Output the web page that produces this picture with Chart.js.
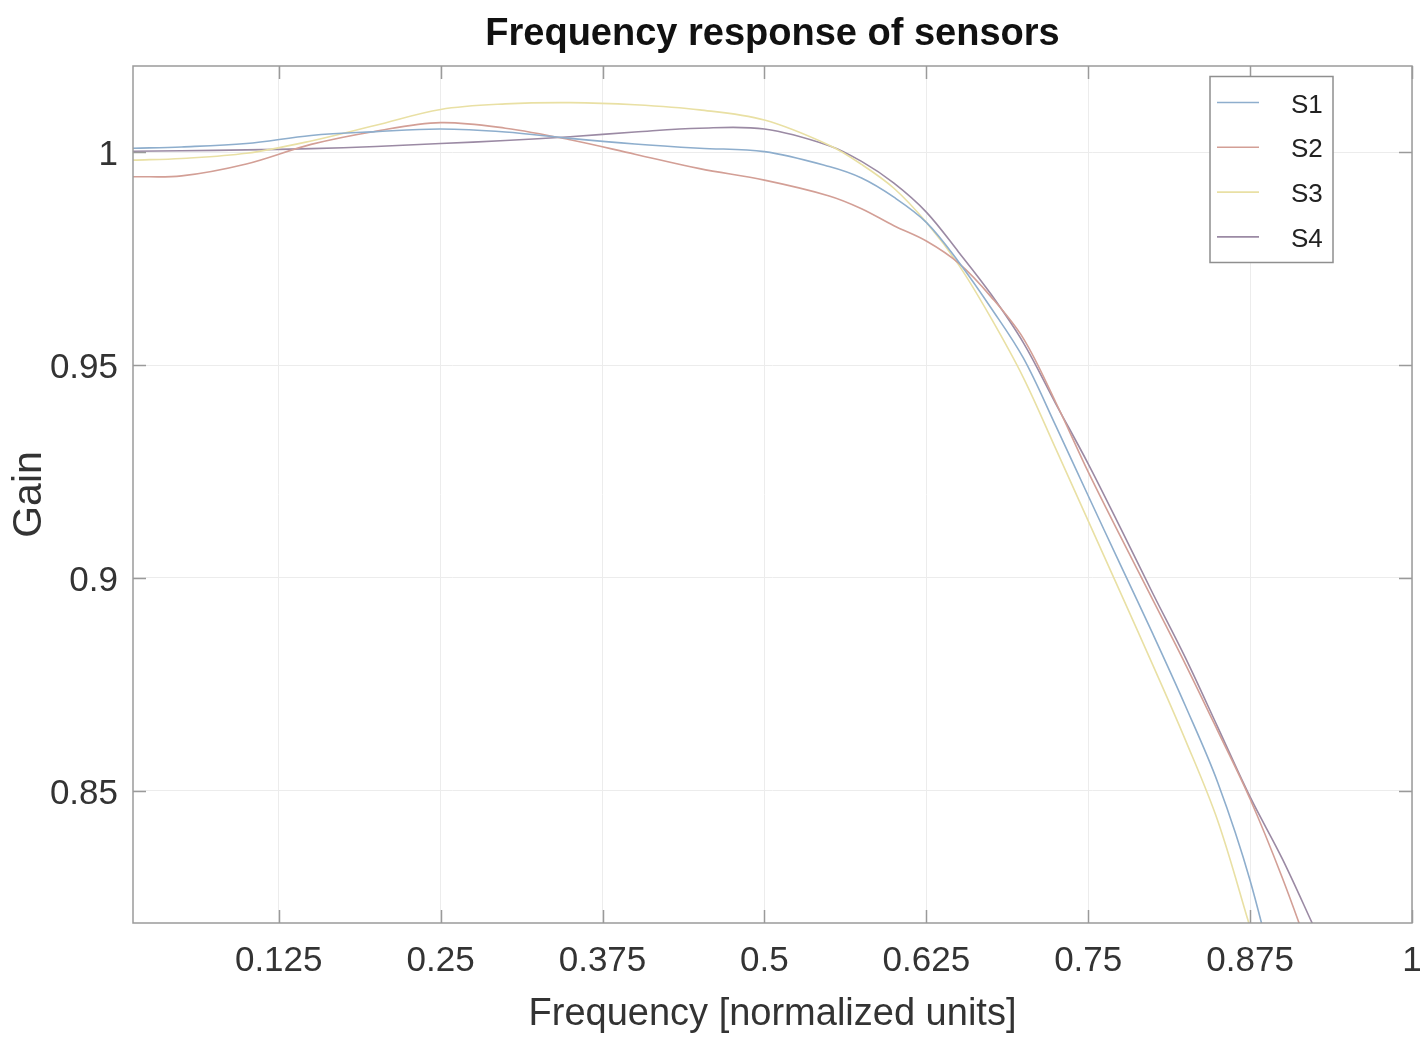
<!DOCTYPE html>
<html>
<head>
<meta charset="utf-8">
<title>Frequency response of sensors</title>
<script src="https://cdn.jsdelivr.net/npm/chart.js@4.4.1/dist/chart.umd.min.js"></script>
<style>
  html, body { margin: 0; padding: 0; background: #fff; }
  #wrap { width: 1422px; height: 1041px; }
</style>
</head>
<body>
<div id="wrap"><canvas id="response" width="1422" height="1041"></canvas></div>
<script>
// normalized frequency grid shared by all sensors
const freq = [0.0125, 0.05, 0.1, 0.15, 0.2, 0.25, 0.3, 0.35, 0.4, 0.45, 0.5, 0.55, 0.575,
              0.6, 0.625, 0.65, 0.675, 0.7, 0.725, 0.75, 0.775, 0.8, 0.825, 0.85, 0.875, 0.9, 0.925];

const s1 = [1.0009, 1.0012, 1.0020, 1.0039, 1.0048, 1.0054, 1.0047, 1.0032, 1.0019, 1.0009, 1.0001, 0.9966, 0.9939,
            0.9894, 0.9835, 0.9742, 0.9634, 0.9516, 0.9357, 0.9193, 0.9030, 0.8868, 0.8700, 0.8520, 0.8290, 0.7990, null];
const s2 = [0.9942, 0.9944, 0.9972, 1.0018, 1.0049, 1.0069, 1.0056, 1.0029, 0.9995, 0.9961, 0.9934, 0.9897, 0.9867,
            0.9827, 0.9791, 0.9739, 0.9660, 0.9562, 0.9412, 0.9249, 0.9097, 0.8948, 0.8798, 0.8641, 0.8481, 0.8295, 0.8087];
const s3 = [0.9981, 0.9985, 0.9997, 1.0026, 1.0063, 1.0100, 1.0113, 1.0116, 1.0111, 1.0099, 1.0075, 1.0016, 0.9971,
            0.9915, 0.9835, 0.9735, 0.9610, 0.9470, 0.9303, 0.9134, 0.8965, 0.8795, 0.8620, 0.8430, 0.8180, null, null];
const s4 = [1.0002, 1.0003, 1.0005, 1.0008, 1.0013, 1.0020, 1.0027, 1.0036, 1.0047, 1.0056, 1.0054, 1.0015, 0.9978,
            0.9927, 0.9859, 0.9765, 0.9666, 0.9552, 0.9409, 0.9268, 0.9117, 0.8963, 0.8813, 0.8650, 0.8486, 0.8340, 0.8176];

const seriesNames = ['S1', 'S2', 'S3', 'S4'];
const seriesColors = ['#8eaecd', '#d39f96', '#e9e0a4', '#9b8aa4'];

const xTicks = [0.125, 0.25, 0.375, 0.5, 0.625, 0.75, 0.875, 1];
const yTicks = [0.85, 0.9, 0.95, 1];

const titleText = 'Frequency response of sensors';
const xTitle = 'Frequency [normalized units]';
const yTitle = 'Gain';

const fontFamily = '"Liberation Sans", Arial, sans-serif';

function toPoints(values) {
    return freq.map((f, i) => ({ x: f, y: values[i] }));
}

// title centred over the plot box, not the whole canvas
const plotTitle = {
    id: 'plotTitle',
    afterDraw(chart) {
        const { ctx, chartArea } = chart;
        ctx.save();
        ctx.font = 'bold 38px ' + fontFamily;
        ctx.fillStyle = '#111';
        ctx.textAlign = 'center';
        ctx.textBaseline = 'middle';
        ctx.fillText(titleText, (chartArea.left + chartArea.right) / 2, 35);
        ctx.restore();
    }
};

// closed axes box with inward tick marks on all four sides
const axesBox = {
    id: 'axesBox',
    afterDatasetsDraw(chart) {
        const { ctx, chartArea: { left, right, top, bottom }, scales: { x, y } } = chart;
        const len = 13;
        ctx.save();
        ctx.strokeStyle = '#9a9a9a';
        ctx.lineWidth = 1.5;
        ctx.beginPath();
        x.ticks.forEach(t => {
            const px = Math.round(x.getPixelForValue(t.value)) + 0.5;
            ctx.moveTo(px, bottom); ctx.lineTo(px, bottom - len);
            ctx.moveTo(px, top); ctx.lineTo(px, top + len);
        });
        y.ticks.forEach(t => {
            const py = Math.round(y.getPixelForValue(t.value)) + 0.5;
            ctx.moveTo(left, py); ctx.lineTo(left + len, py);
            ctx.moveTo(right, py); ctx.lineTo(right - len, py);
        });
        ctx.stroke();
        ctx.strokeRect(left, top, right - left, bottom - top);
        ctx.restore();
    }
};

// boxed legend in the upper right corner of the plot
const boxLegend = {
    id: 'boxLegend',
    afterDraw(chart) {
        const { ctx, chartArea } = chart;
        const w = 123, h = 186;
        const bx = chartArea.right - 79 - w;
        const by = chartArea.top + 10.5;
        ctx.save();
        ctx.fillStyle = '#fff';
        ctx.fillRect(bx, by, w, h);
        ctx.strokeStyle = '#8f8f8f';
        ctx.lineWidth = 1.5;
        ctx.strokeRect(bx, by, w, h);
        ctx.font = '26px ' + fontFamily;
        ctx.textBaseline = 'middle';
        ctx.textAlign = 'left';
        chart.data.datasets.forEach((ds, i) => {
            const rowY = by + 26 + i * 44.8;
            ctx.strokeStyle = ds.borderColor;
            ctx.lineWidth = 1.6;
            ctx.beginPath();
            ctx.moveTo(bx + 7, rowY);
            ctx.lineTo(bx + 49, rowY);
            ctx.stroke();
            ctx.fillStyle = '#222';
            ctx.fillText(ds.label, bx + 81, rowY + 3);
        });
        ctx.restore();
    }
};

const datasets = [s1, s2, s3, s4].map((vals, i) => ({
    label: seriesNames[i],
    data: toPoints(vals),
    borderColor: seriesColors[i],
    backgroundColor: seriesColors[i],
    borderWidth: 1.6,
    pointRadius: 0,
    tension: 0.35,
    fill: false
}));

new Chart(document.getElementById('response'), {
    type: 'line',
    data: { datasets },
    options: {
        responsive: false,
        animation: false,
        devicePixelRatio: 1,
        layout: { padding: { top: 66, right: 10, bottom: 0, left: 0 } },
        plugins: {
            legend: { display: false },
            title: { display: false },
            tooltip: { enabled: false }
        },
        scales: {
            x: {
                type: 'linear',
                min: 0.0125,
                max: 1,
                afterBuildTicks: s => { s.ticks = xTicks.map(v => ({ value: v })); },
                afterFit: s => {
                    s.height = 118;
                    s.paddingLeft = 0;
                    s.paddingRight = 0;
                },
                grid: { color: '#ececec', lineWidth: 1, drawTicks: false },
                border: { display: false },
                ticks: {
                    autoSkip: false,
                    maxRotation: 0,
                    padding: 17,
                    color: '#333',
                    font: { family: fontFamily, size: 35 },
                    callback: v => String(v)
                },
                title: {
                    display: true,
                    text: xTitle,
                    color: '#333',
                    font: { family: fontFamily, size: 38 },
                    padding: { top: 0, bottom: 4 }
                }
            },
            y: {
                min: 0.819,
                max: 1.0202,
                afterBuildTicks: s => { s.ticks = yTicks.map(v => ({ value: v })); },
                afterFit: s => { s.width = 133; },
                grid: { color: '#ececec', lineWidth: 1, drawTicks: false },
                border: { display: false },
                ticks: {
                    padding: 15,
                    labelOffset: 3,
                    color: '#333',
                    font: { family: fontFamily, size: 35 },
                    callback: v => String(v)
                },
                title: {
                    display: true,
                    text: yTitle,
                    color: '#333',
                    font: { family: fontFamily, size: 41 },
                    padding: { top: 5, bottom: 0 }
                }
            }
        }
    },
    plugins: [axesBox, boxLegend, plotTitle]
});
</script>
</body>
</html>
